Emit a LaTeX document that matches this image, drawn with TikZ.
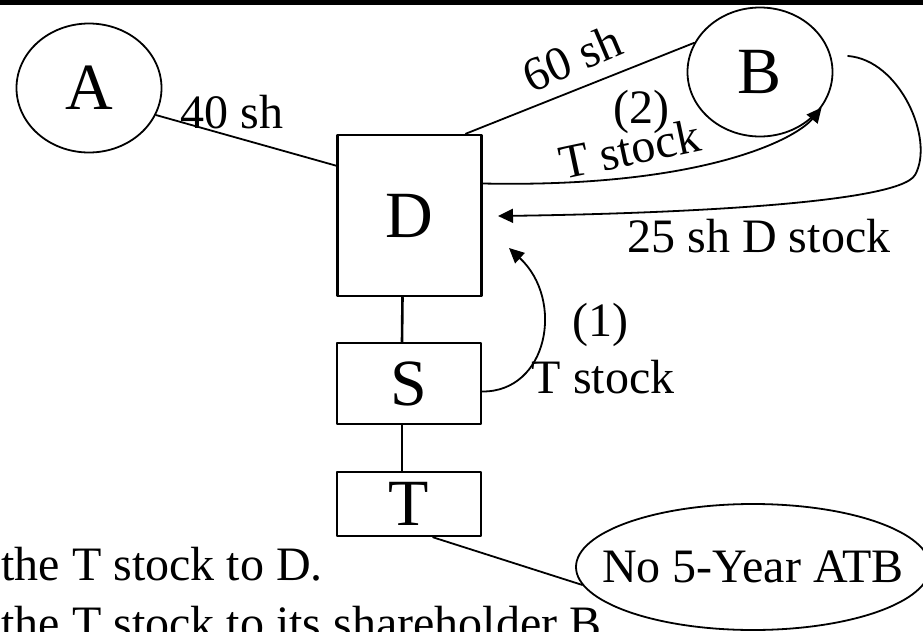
\documentclass[tikz,border=0pt]{standalone}
\usepackage{fontspec}
\setmainfont{Liberation Serif}
\usetikzlibrary{shapes.geometric,arrows.meta}

\begin{document}
\begin{tikzpicture}[x=0.5pt,y=-0.5pt,line cap=round,line join=round,
  box/.style={draw,line width=1.3pt,minimum width=72pt,inner sep=0pt,font=\fontsize{33}{36}\selectfont},
  party/.style={draw,ellipse,line width=0.9pt,inner sep=0pt},
  lbl/.style={font=\fontsize{24}{28}\selectfont,inner sep=0pt},
  flow/.style={line width=0.9pt,-{Triangle[length=7.5pt,width=7pt]}}]
\useasboundingbox (0,0) rectangle (923,632);
\clip (0,0) rectangle (923,632);
\fill (0,0) rectangle (923,4.5);

% shareholders and corporations
\node[party,minimum width=72.5pt,minimum height=64.5pt,font=\fontsize{33}{36}\selectfont] (A) at (89,88) {A};
\node[party,minimum width=72.5pt,minimum height=64.5pt,font=\fontsize{33}{36}\selectfont] (B) at (760,72) {B};
\node[box,minimum height=80.5pt] (D) at (409.5,215.5) {D};
\node[box,minimum height=40.5pt] (S) at (409,383.5) {S};
\node[box,minimum height=32pt] (T) at (409,504) {T};
\node[party,minimum width=177pt,minimum height=63pt,lbl] (atb) at (753,567) {\makebox[0pt]{No 5-Year ATB}};

% free ends of the arrows
\coordinate (Bgap) at (848,56);
\coordinate (d25end) at (498,216);
\coordinate (t1end) at (509,248);

% ownership lines
\draw[line width=0.9pt] (A.-22) -- ([yshift=-16pt]D.north west);
\draw[line width=0.9pt] ([xshift=-8.5pt]D.north east) -- (B.156);
\draw[line width=1.3pt] ([xshift=-3.5pt]D.south) -- ([xshift=-3.5pt]S.north);
\draw[line width=1.3pt] ([xshift=-3.5pt]S.south) -- ([xshift=-3.5pt]T.north);
\draw[line width=0.9pt] ([xshift=12pt]T.south) -- (atb.186);

% transfers
\draw[flow] ([yshift=-4pt]S.east) .. controls (548,392) and (565,300) .. (t1end);
\draw[flow] ([yshift=16pt]D.east) .. controls (700,188) and (795,140) .. (B.-30);
\draw[flow] (Bgap) .. controls (900,60) and (935,140) .. (915,175)
  .. controls (898,205) and (650,214) .. (d25end);

% labels
\node[lbl,anchor=base west] (l40) at (180,128) {40 sh};
\node[lbl,rotate=23] (l60) at (572,58) {60 sh};
\node[lbl] (n2) at (641,112) {(2)};
\node[lbl,anchor=base,rotate=12] (t2) at (633,165) {T stock};
\node[lbl] (n1) at (600,325) {(1)};
\node[lbl,anchor=base] (t1) at (603,393) {T stock};
\node[lbl,anchor=base] (l25) at (759,252) {25 sh D stock};
\node[lbl,anchor=base west] (step1) at (1,580) {the T stock to D.};
\node[lbl,anchor=base west] (step2) at (1,639) {the T stock to its shareholder B};
\end{tikzpicture}
\end{document}
